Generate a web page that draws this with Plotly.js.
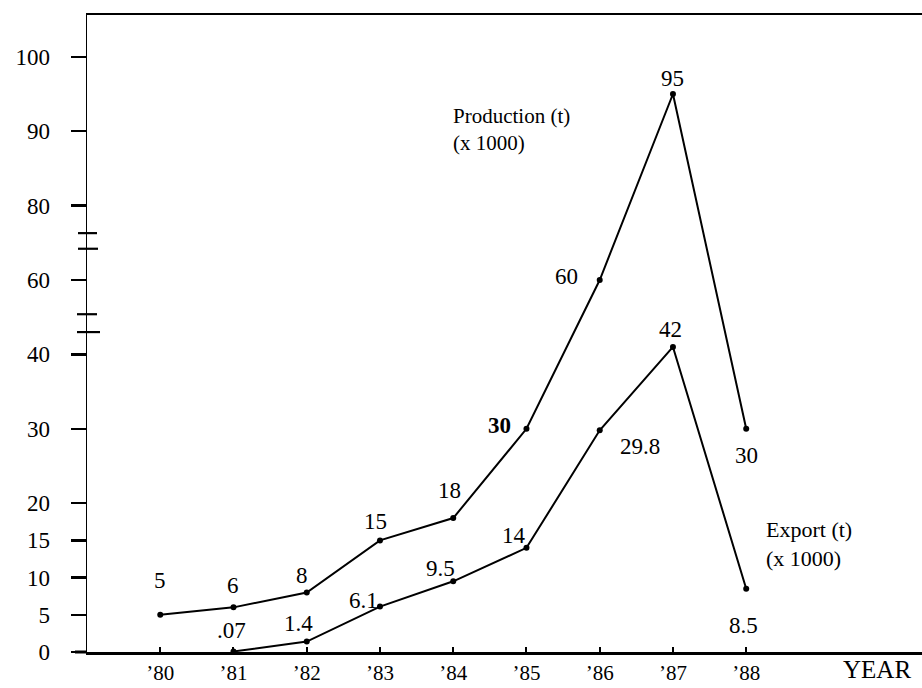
<!DOCTYPE html>
<html>
<head>
<meta charset="utf-8">
<script src="https://cdn.plot.ly/plotly-3.0.1.min.js"></script>
<style>html,body{margin:0;padding:0;background:#fff;}#chart{width:922px;height:688px;}</style>
</head>
<body>
<div id="chart"></div>
<script>
// ---- data ----
const years = [1980, 1981, 1982, 1983, 1984, 1985, 1986, 1987, 1988];
const yearLabels = ["’80", "’81", "’82", "’83", "’84", "’85", "’86", "’87", "’88"];
const productionYears = [1980, 1981, 1982, 1983, 1984, 1985, 1986, 1987, 1988];
const production = [5, 6, 8, 15, 18, 30, 60, 95, 30];
const productionLabels = ["5", "6", "8", "15", "18", "<b>30</b>", "60", "95", "30"];
const exportYears = [1981, 1982, 1983, 1984, 1985, 1986, 1987, 1988];
const exportVals = [0.07, 1.4, 6.1, 9.5, 14, 29.8, 42, 8.5];
const exportLabels = [".07", "1.4", "6.1", "9.5", "14", "29.8", "42", "8.5"];
const yTicks = [0, 5, 10, 15, 20, 30, 40, 60, 80, 90, 100];
const yTickLabels = ["0", "5", "10", "15", "20", "30", "40", "60", "80", "90", "100"];

// ---- broken axis: 0–40 full scale, 40–80 half scale, 80–100 full scale ----
function disp(v) {
  if (v <= 40) return v;
  if (v <= 80) return 40 + (v - 40) / 2;
  return 60 + (v - 80);
}

// ---- label offsets (style, pixels) ----
const prodOff = [[0,-34],[0,-22],[-5,-17],[-4,-19],[-4,-28],[-27,-3],[-33,-4],[0,-16],[0,27]];
const expOff = [[-2,-21],[-8,-18],[-16,-6],[-13,-13],[-12,-12],[40,16],[-2,-17],[-3,37]];
const breakMarks = [[56.3,78,97],[54.2,78,98],[45.4,77,97],[43.0,77,100]];

const FONT = "Liberation Serif, Times New Roman, serif";
const X0 = 87, PW = 835;   // plot left px, plot width px
const T0 = 15, Y0 = 652;   // plot top px, plot bottom px
const PH = Y0 - T0;

const traces = [
  {x: productionYears, y: production.map(disp), mode: "lines+markers", type: "scatter",
   line: {color: "#000", width: 2}, marker: {color: "#000", size: 6}, hoverinfo: "skip"},
  {x: exportYears, y: exportVals.map(disp), mode: "lines+markers", type: "scatter",
   line: {color: "#000", width: 2}, marker: {color: "#000", size: 6}, hoverinfo: "skip"}
];

const annotations = [];
production.forEach((v, i) => annotations.push({
  x: productionYears[i], y: disp(v), xref: "x", yref: "y", text: productionLabels[i],
  showarrow: false, xanchor: "center", yanchor: "middle",
  xshift: prodOff[i][0], yshift: -prodOff[i][1], font: {family: FONT, size: 23, color: "#000"}
}));
exportVals.forEach((v, i) => annotations.push({
  x: exportYears[i], y: disp(v), xref: "x", yref: "y", text: exportLabels[i],
  showarrow: false, xanchor: "center", yanchor: "middle",
  xshift: expOff[i][0], yshift: -expOff[i][1], font: {family: FONT, size: 23, color: "#000"}
}));
const txt = (t, px, py, anchor, size) => ({
  x: (px - X0) / PW, y: (Y0 - py) / PH, xref: "paper", yref: "paper", text: t,
  showarrow: false, xanchor: anchor, yanchor: "middle", align: "left",
  font: {family: FONT, size: size, color: "#000"}
});
annotations.push(txt("Production (t)<br>(x 1000)", 451, 130, "left", 21));
annotations.push(txt("Export (t)<br>(x 1000)", 764, 544, "left", 22));
annotations.push(txt("YEAR", 877, 669, "center", 25));

const shapes = breakMarks.map(b => ({
  type: "line", xref: "paper", yref: "y",
  x0: (b[1] - X0) / PW, x1: (b[2] - X0) / PW, y0: b[0], y1: b[0],
  line: {color: "#000", width: 2.2}
}));
// x-axis line extending slightly left of the y axis
shapes.push({type: "line", xref: "paper", yref: "paper", x0: (75 - X0) / PW, x1: 0, y0: 0, y1: 0,
  line: {color: "#000", width: 3}});

const layout = {
  width: 922, height: 688,
  margin: {l: X0, r: 0, t: T0, b: 688 - Y0, pad: 0},
  paper_bgcolor: "#fff", plot_bgcolor: "#fff",
  showlegend: false,
  xaxis: {
    range: [1979.0, 1990.4], tickvals: years, ticktext: yearLabels,
    showgrid: false, zeroline: false, showline: true, mirror: true,
    linecolor: "#000", linewidth: 2.5,
    ticks: "inside", ticklen: 5, tickwidth: 2, tickcolor: "#000",
    ticklabelstandoff: 0,
    tickfont: {family: FONT, size: 21, color: "#000"}
  },
  yaxis: {
    range: [0, PH / 7.44], tickvals: yTicks.map(disp), ticktext: yTickLabels,
    showgrid: false, zeroline: false, showline: true,
    linecolor: "#000", linewidth: 1.5,
    ticks: "outside", ticklen: 15, tickwidth: 2.5, tickcolor: "#000",
    ticklabelstandoff: 16,
    tickfont: {family: FONT, size: 23, color: "#000"}
  },
  annotations: annotations,
  shapes: shapes
};

Plotly.newPlot("chart", traces, layout, {staticPlot: true, displayModeBar: false});
</script>
</body>
</html>
